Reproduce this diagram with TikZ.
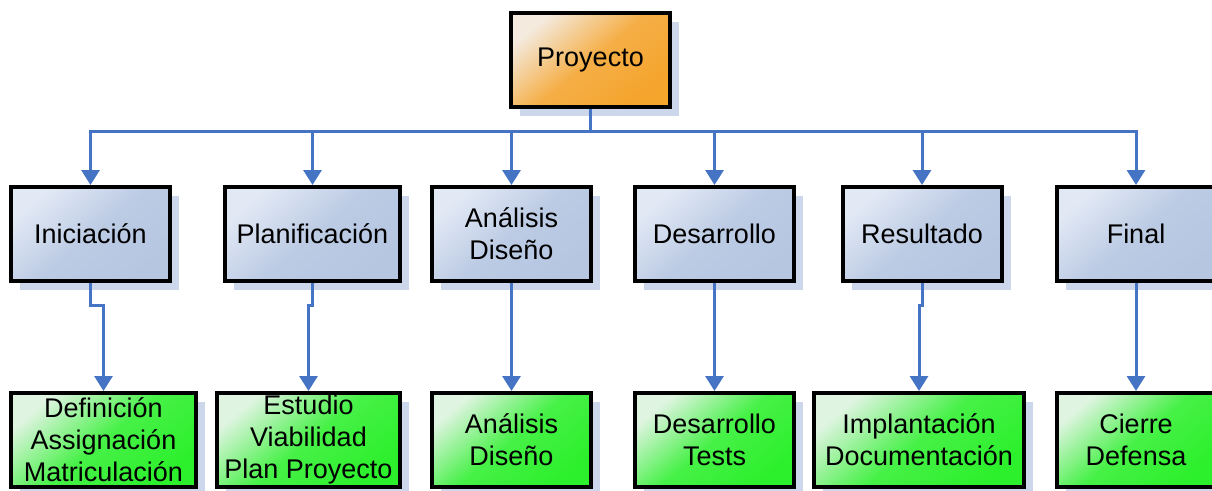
\documentclass[tikz,border=0pt]{standalone}
\usepackage{fontspec}
\setmainfont{Liberation Sans}
\usepackage{tikz}
\usetikzlibrary{arrows.meta,shadows,calc}
\definecolor{linkblue}{RGB}{70,116,196}
\definecolor{shadowblue}{RGB}{204,215,236}
\definecolor{orangelight}{RGB}{244,234,222}
\definecolor{orangedark}{RGB}{245,164,44}
\definecolor{bluelight}{RGB}{226,233,245}
\definecolor{bluedark}{RGB}{182,198,225}
\definecolor{greenlight}{RGB}{224,244,226}
\definecolor{greendark}{RGB}{44,240,44}

\begin{document}
\begin{tikzpicture}[x=1pt,y=-1pt,
  box/.style={draw=black,line width=4pt,align=center,inner sep=0pt,
    minimum width=159pt,minimum height=94pt,font=\fontsize{27}{32}\selectfont,
    drop shadow={shadow xshift=9pt,shadow yshift=-9pt,fill=shadowblue,opacity=1}},
  topbox/.style={box,top color=orangelight,bottom color=orangedark,
    middle color=orangedark!85!orangelight,shading angle=40},
  midbox/.style={box,top color=bluelight,bottom color=bluedark,
    middle color=bluedark!85!bluelight,shading angle=40},
  lowbox/.style={box,top color=greenlight,bottom color=greendark,
    middle color=greendark!85!greenlight,shading angle=40},
  wire/.style={draw=linkblue,line width=3pt},
  link/.style={wire,-{Triangle[width=18pt,length=15pt]}}]
\useasboundingbox (0,0) rectangle (1212,490);

\node[topbox] (proy) at (590.5,60) {Proyecto};

\node[midbox] (ini) at (90.5,234) {Iniciación};
\node[midbox,minimum width=175pt] (plan) at (312.5,234) {Planificación};
\node[midbox] (ana) at (511.5,234) {Análisis\\Diseño};
\node[midbox] (des) at (714.5,234) {Desarrollo};
\node[midbox] (res) at (922,234) {Resultado};
\node[midbox] (fin) at (1136,234) {Final};

\node[lowbox,minimum width=185pt] (def) at (103.5,440) {Definición\\Assignación\\Matriculación};
\node[lowbox,minimum width=183pt] (est) at (308.5,440) {Estudio\\Viabilidad\\Plan Proyecto};
\node[lowbox] (anad) at (511.5,440) {Análisis\\Diseño};
\node[lowbox] (dest) at (714.5,440) {Desarrollo\\Tests};
\node[lowbox,minimum width=210pt] (impl) at (919,440) {Implantación\\Documentación};
\node[lowbox] (cie) at (1136,440) {Cierre\\Defensa};

\coordinate (bus) at (590.5,131);
\draw[wire] (proy.south) -- (bus);
\foreach \n in {ini,plan,ana,des,res,fin}
  \draw[link] (bus) -| (\n.north);
\foreach \a/\b in {ini/def,plan/est,ana/anad,des/dest,res/impl,fin/cie}
  \draw[link] (\a.south) -- ++(0,22) -| (\b.north);
\end{tikzpicture}
\end{document}
